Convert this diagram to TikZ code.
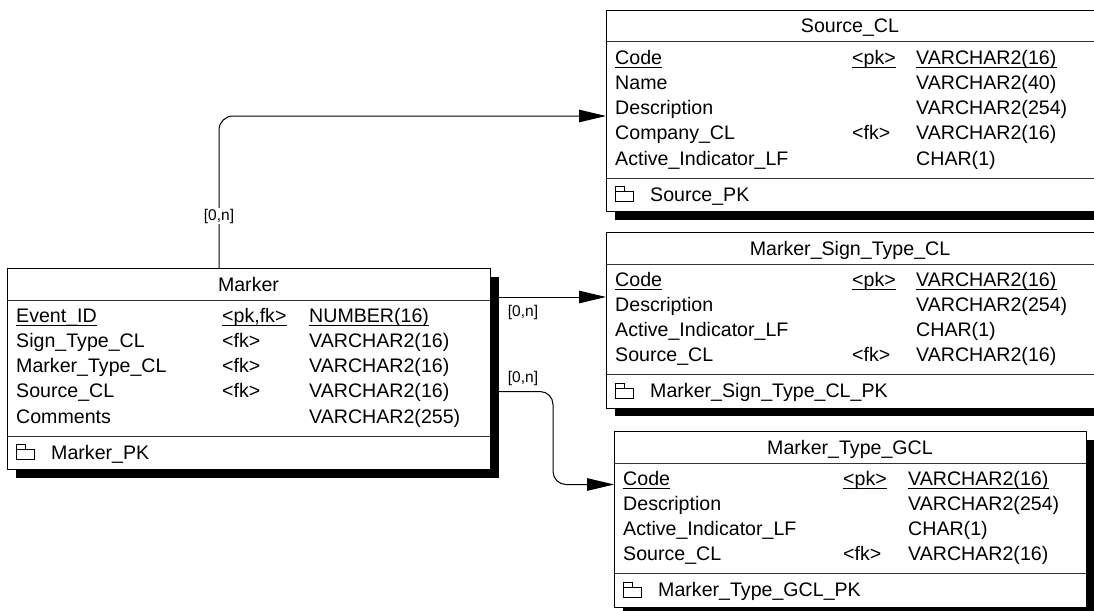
\documentclass[tikz,border=0pt]{standalone}
\usepackage{fontspec}
\setmainfont{Liberation Sans}
\usetikzlibrary{arrows.meta,shadows}
\def\tabcols#1#2#3{\def\cN{#1}\def\cK{#2}\def\cT{#3}}
\newcommand\erow[6]{%
  \node[fld] (#1n#2) at (\cN,#3) {#4};
  \node[fld] (#1k#2) at (\cK,#3) {#5};
  \node[fld] (#1t#2) at (\cT,#3) {#6};
}
\newcommand\pkicon[2]{%
  \draw[icon] (#1,#2) rectangle ++(9,5.5);
  \draw[icon] (#1,#2+5.5) rectangle ++(18,9.5);
}
\newcommand\ulnode[1]{%
  \draw[ul] ([yshift=-3pt]#1.base west) -- ([yshift=-3pt]#1.base east);
}
\begin{document}
\begin{tikzpicture}[x=1pt,y=-1pt,
  font=\fontsize{19.6}{22}\selectfont,
  tbl/.style={draw=black, line width=1pt, fill=white, rectangle, inner sep=0pt,
    anchor=north west,
    general shadow={fill=black, draw=none, shadow xshift=8pt, shadow yshift=-8pt}},
  fld/.style={anchor=base west, inner sep=0pt},
  ttl/.style={anchor=base, inner sep=0pt},
  sepl/.style={draw=black!80, line width=1pt},
  ul/.style={draw=black, line width=1pt},
  icon/.style={draw=black, line width=0.8pt},
  conn/.style={draw=black, line width=1pt, -{Triangle[length=27pt,width=12.5pt]}},
  lbl/.style={font=\fontsize{15.5}{17}\selectfont, fill=white, inner sep=1pt}
]
\useasboundingbox (0,0) rectangle (1094,610);
\clip (0,0) rectangle (1094,610);

% ---------- Source_CL ----------
\node[tbl, minimum width=489pt, minimum height=201.2pt] (sc) at (606,10) {};
\node[ttl] (sctitle) at (850,33) {Source\_CL};
\draw[sepl] (606,42) -- (1095,42);
\tabcols{615}{852}{916}
\erow{sc}{1}{64}{Code}{<pk>}{VARCHAR2(16)}
\erow{sc}{2}{89.3}{Name}{}{VARCHAR2(40)}
\erow{sc}{3}{114.6}{Description}{}{VARCHAR2(254)}
\erow{sc}{4}{139.9}{Company\_CL}{<fk>}{VARCHAR2(16)}
\erow{sc}{5}{165.2}{Active\_Indicator\_LF}{}{CHAR(1)}
\ulnode{scn1}\ulnode{sck1}\ulnode{sct1}
\draw[sepl] (606,178.2) -- (1095,178.2);
\pkicon{615}{186.2}
\node[fld] (scpk) at (650,201.2) {Source\_PK};

% ---------- Marker_Sign_Type_CL ----------
\node[tbl, minimum width=489pt, minimum height=175.9pt] (mst) at (606,232) {};
\node[ttl] (msttitle) at (850,255) {Marker\_Sign\_Type\_CL};
\draw[sepl] (606,264) -- (1095,264);
\tabcols{615}{852}{916}
\erow{ms}{1}{286}{Code}{<pk>}{VARCHAR2(16)}
\erow{ms}{2}{311.3}{Description}{}{VARCHAR2(254)}
\erow{ms}{3}{336.6}{Active\_Indicator\_LF}{}{CHAR(1)}
\erow{ms}{4}{361.9}{Source\_CL}{<fk>}{VARCHAR2(16)}
\ulnode{msn1}\ulnode{msk1}\ulnode{mst1}
\draw[sepl] (606,374.9) -- (1095,374.9);
\pkicon{615}{382.9}
\node[fld] (mspk) at (650,397.9) {Marker\_Sign\_Type\_CL\_PK};

% ---------- Marker_Type_GCL ----------
\node[tbl, minimum width=472pt, minimum height=175.9pt] (mtg) at (614,431) {};
\node[ttl] (mtgtitle) at (850,454) {Marker\_Type\_GCL};
\draw[sepl] (614,463) -- (1086,463);
\tabcols{623}{843}{908}
\erow{mg}{1}{485}{Code}{<pk>}{VARCHAR2(16)}
\erow{mg}{2}{510.3}{Description}{}{VARCHAR2(254)}
\erow{mg}{3}{535.6}{Active\_Indicator\_LF}{}{CHAR(1)}
\erow{mg}{4}{560.9}{Source\_CL}{<fk>}{VARCHAR2(16)}
\ulnode{mgn1}\ulnode{mgk1}\ulnode{mgt1}
\draw[sepl] (614,573.9) -- (1086,573.9);
\pkicon{623}{581.9}
\node[fld] (mgpk) at (658,596.9) {Marker\_Type\_GCL\_PK};

% ---------- Marker ----------
\node[tbl, minimum width=483pt, minimum height=201.2pt] (mk) at (7,268) {};
\node[ttl] (mktitle) at (248.5,291) {Marker};
\draw[sepl] (7,300) -- (490,300);
\tabcols{16}{222}{309}
\erow{mk}{1}{322}{Event\_ID}{<pk,fk>}{NUMBER(16)}
\erow{mk}{2}{347.3}{Sign\_Type\_CL}{<fk>}{VARCHAR2(16)}
\erow{mk}{3}{372.6}{Marker\_Type\_CL}{<fk>}{VARCHAR2(16)}
\erow{mk}{4}{397.9}{Source\_CL}{<fk>}{VARCHAR2(16)}
\erow{mk}{5}{423.2}{Comments}{}{VARCHAR2(255)}
\ulnode{mkn1}\ulnode{mkk1}\ulnode{mkt1}
\draw[sepl] (7,436.2) -- (490,436.2);
\pkicon{16}{444.2}
\node[fld] (mkpk) at (51,459.2) {Marker\_PK};

% ---------- connectors ----------
\coordinate (p1) at (219,116);
\coordinate (p2) at (0,297);
\coordinate (p3a) at (0,391.5);
\coordinate (p3) at (553,484.5);
\draw[conn, rounded corners=14pt] (mk.north -| p1) |- (sc.west |- p1);
\draw[conn] (mk.east |- p2) -- (mst.west |- p2);
\draw[conn, rounded corners=13pt] (mk.east |- p3a) -| (p3) -- (mtg.west |- p3);

\node[lbl] (l1) at (219,216) {[0,n]};
\node[lbl] (l2) at (523,312) {[0,n]};
\node[lbl] (l3) at (523,378) {[0,n]};
\end{tikzpicture}
\end{document}
